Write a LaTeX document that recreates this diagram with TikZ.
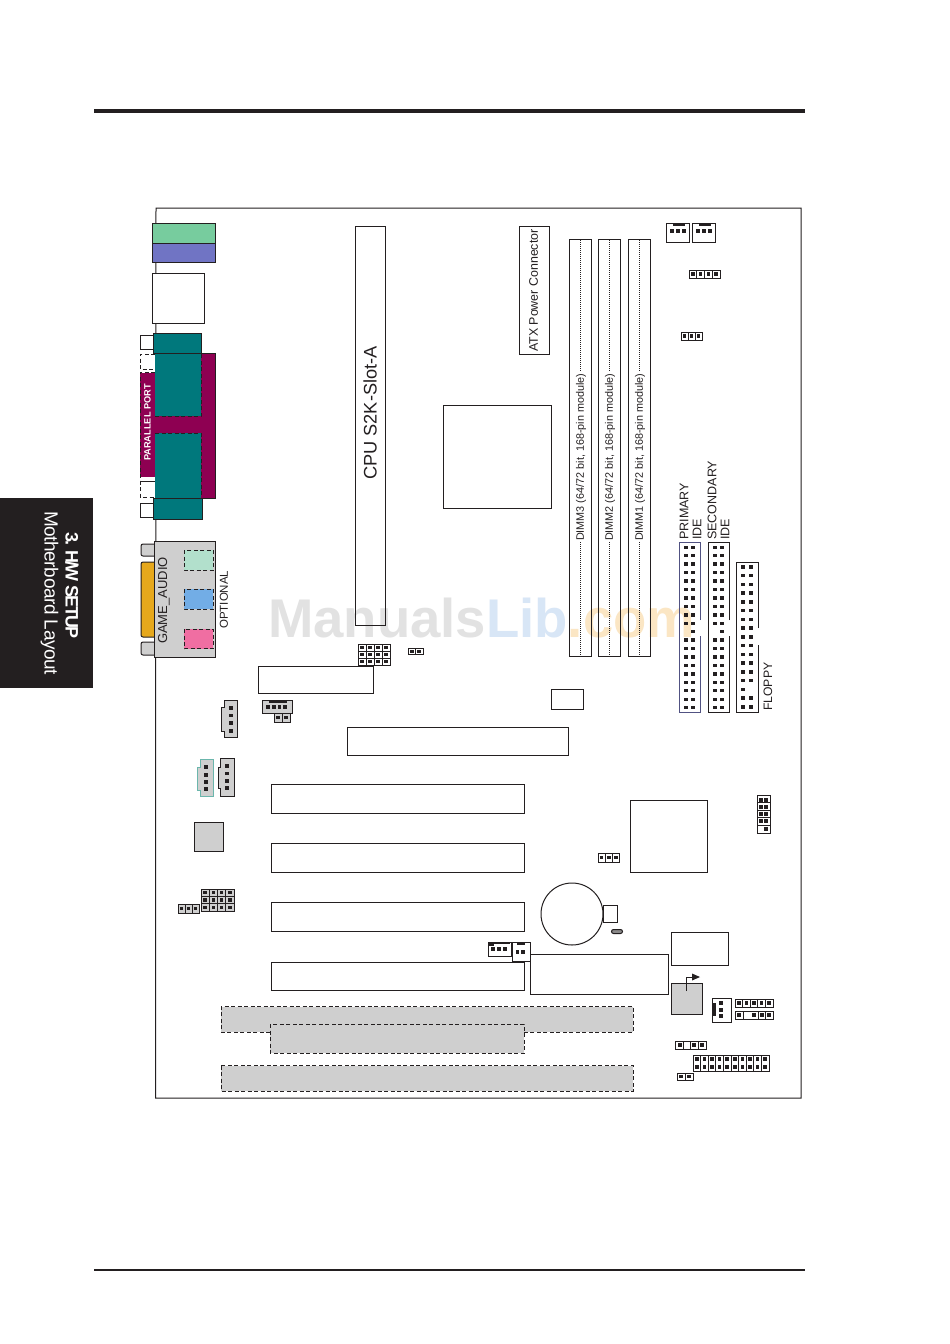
\documentclass[tikz,border=0pt]{standalone}
\usepackage{fontspec}
\setmainfont{Liberation Sans}
\definecolor{ink}{HTML}{231F20}
\definecolor{teal1}{HTML}{00787C}
\definecolor{purp}{HTML}{8E0052}
\definecolor{grn}{HTML}{77CC9E}
\definecolor{blu}{HTML}{7074C4}
\definecolor{gold}{HTML}{E6A81C}
\definecolor{mint}{HTML}{B2E0CC}
\definecolor{sky}{HTML}{72ADE6}
\definecolor{pink1}{HTML}{F06EA2}
\definecolor{grey1}{HTML}{CFCFCF}
\definecolor{wmg}{HTML}{E2E2E2}
\definecolor{wmb}{HTML}{D8E6F6}
\definecolor{wmo}{HTML}{FBE6C4}
\tikzset{
  ln/.style={draw=ink,line width=1pt},
  thin1/.style={draw=ink,line width=.8pt},
  dsh/.style={draw=ink,line width=.9pt,dash pattern=on 4pt off 2.5pt},
  rottext/.style={rotate=90,anchor=west,inner sep=0pt,text=ink,font=\fontsize{#1}{#1}\selectfont},
  dimmtext/.style={rotate=90,anchor=west,inner sep=0pt,text=ink,font=\fontsize{10.8}{11}\selectfont},
  dot1/.style={draw=ink,line width=.6pt,dash pattern=on 1pt off 1pt},
}
\newcommand{\pinat}[2]{\fill[ink] ({#1-1.8},{#2-1.7}) rectangle ({#1+1.8},{#2+1.7});}
% \cellgrid{x0}{y0}{x1}{y1}{cols}{rows}
\newcommand{\cellgrid}[7][none]{%
  \draw[thin1,fill=#1] (#2,#3) rectangle (#4,#5);
  \pgfmathsetmacro{\cw}{(#4-#2)/#6}\pgfmathsetmacro{\ch}{(#5-#3)/#7}%
  \pgfmathtruncatemacro{\nc}{#6-1}\pgfmathtruncatemacro{\nr}{#7-1}%
  \ifnum\nc>0 \foreach \i in {1,...,\nc}{\draw[thin1] ({#2+\i*\cw},#3) -- ({#2+\i*\cw},#5);}\fi
  \ifnum\nr>0 \foreach \j in {1,...,\nr}{\draw[thin1] (#2,{#3+\j*\ch}) -- (#4,{#3+\j*\ch});}\fi
}
\newcommand{\allpins}[6]{% x0 y0 x1 y1 cols rows
  \pgfmathsetmacro{\cw}{(#3-#1)/#5}\pgfmathsetmacro{\ch}{(#4-#2)/#6}%
  \pgfmathtruncatemacro{\nc}{#5-1}\pgfmathtruncatemacro{\nr}{#6-1}%
  \foreach \i in {0,...,\nc}\foreach \j in {0,...,\nr}{\pinat{#1+(\i+.5)*\cw}{#2+(\j+.5)*\ch}}%
}
\begin{document}
\begin{tikzpicture}[x=1pt,y=-1pt]
\useasboundingbox (0,0) rectangle (950,1344);
\fill[white] (0,0) rectangle (950,1344);
% watermark
\node[inner sep=0pt,anchor=base west,font=\fontsize{54.5}{55}\selectfont\bfseries] (wm) at (268,637) {\textcolor{wmg}{Manuals}\textcolor{wmb}{Lib}\textcolor{wmo}{.com}};
% page furniture
\fill[ink] (94,109) rectangle (805,113);
\fill[ink] (94,1269) rectangle (805,1271);
\fill[ink] (0,498) rectangle (93,688);
\node[rotate=-90,inner sep=0pt,text=white,font=\fontsize{18}{18}\selectfont\bfseries\addfontfeature{LetterSpace=-9}] (tabA) at (72,585.5) {3. H/W SETUP};
\node[rotate=-90,inner sep=0pt,text=white,font=\fontsize{19}{19}\selectfont\addfontfeature{LetterSpace=-2}] (tabB) at (49.5,593) {Motherboard Layout};
% board
\draw[ln] (155,1098) -- (801,1098) -- (801,208) -- (156,208) -- (155.5,1098);
% back panel top
\fill[grn] (152,223) rectangle (215,243); \draw[ln] (152,223) rectangle (215,243);
\fill[blu] (152,243) rectangle (215,262); \draw[ln] (152,243) rectangle (215,262);
\draw[ln,fill=white] (152,273) rectangle (204.5,323);
% parallel & serial
\draw[ln,fill=white] (140,335) rectangle (154,349);
\draw[ln,fill=white] (140,503) rectangle (154,517);
\fill[purp] (140,373) rectangle (155,477);
\fill[purp] (155,353) rectangle (215,498);
\draw[ink,line width=.8pt] (201,353) -- (215,353) -- (215,498) -- (201,498);
\fill[teal1] (155,353) rectangle (201,416);
\fill[teal1] (155,433) rectangle (201,498);
\draw[dsh,line width=.7pt] (155,416) -- (201,416) -- (201,353);
\draw[dsh,line width=.7pt] (155,433) -- (201,433) -- (201,498);
\fill[teal1] (153,333) rectangle (201,353); \draw[ln] (153,333) rectangle (201,353);
\fill[teal1] (153,498) rectangle (202,519); \draw[ln] (153,498) rectangle (202,519);
\draw[dsh,line width=.8pt] (155,354) -- (140,354) -- (140,369) -- (155,369);
\draw[dsh,line width=.8pt] (155,372) -- (140,372) -- (140,497) -- (155,497);
\draw[ln] (140,481) -- (155,481);
\node[rotate=90,inner sep=0pt,text=white,font=\fontsize{9.2}{9.5}\selectfont\bfseries] (par) at (147.5,422.5) {PARALLEL PORT};
% audio
\draw[ln,fill=grey1,rounded corners=2pt] (154,544) -- (141,544) -- (141,556) -- (154,556);
\draw[ln,fill=grey1,rounded corners=2pt] (154,642) -- (141,642) -- (141,655) -- (154,655);
\draw[ln,fill=gold,rounded corners=2pt] (154,562) -- (141,562) -- (141,637) -- (154,637);
\draw[ln,fill=grey1] (154,541.5) rectangle (215.5,657.5);
\path[fill=mint] (184,550) rectangle (213,570); \draw[dsh] (184,550) rectangle (213,570);
\path[fill=sky] (184,589) rectangle (213,609); \draw[dsh] (184,589) rectangle (213,609);
\path[fill=pink1] (184,629) rectangle (213,648.5); \draw[dsh] (184,629) rectangle (213,648.5);
\node[rottext=13] (ga) at (164,644) {GAME\_AUDIO};
\node[rottext=11.5] (op) at (224,629) {OPTIONAL};
% main rectangles
\draw[ln] (355,226) rectangle (385,625);
\node[rottext=18.2] (cpu) at (370,480) {CPU S2K-Slot-A};
\draw[ln] (519,226) rectangle (549,354);
\node[rottext=12.4] (atx) at (533.5,352) {ATX Power Connector};
\draw[ln] (443,405) rectangle (551,508);
\foreach \xa/\n in {569/3,598/2,628/1}{
  \draw[ln] (\xa,239) rectangle (\xa+22,656);
  \draw[dot1] (\xa+11,240) -- (\xa+11,372);
  \draw[dot1] (\xa+11,542) -- (\xa+11,655);
  \node[dimmtext] at (\xa+12,541) {DIMM\n\ (64/72 bit, 168-pin module)};
}
\draw[ln] (258,666) rectangle (373,693);
\draw[ln] (347,727) rectangle (568,755);
\draw[ln] (551,689) rectangle (583,709);
\draw[ln] (630,800) rectangle (707,872);
\foreach \ya/\yb in {784/813,843/872,902/931,962/990}{\draw[ln] (271,\ya) rectangle (524,\yb);}
\draw[ln] (530,990) -- (530,954) -- (668,954) -- (668,994) -- (530,994) -- (530,990);
\draw[ln] (671,932) rectangle (728,965);
% dashed ISA slots
\fill[grey1] (221,1006.5) rectangle (633,1032);
\draw[dsh] (270,1032) -- (221,1032) -- (221,1006.5) -- (633,1006.5) -- (633,1032) -- (524,1032);
\fill[grey1] (270,1024) rectangle (524,1053);
\draw[dsh] (270,1024) rectangle (524,1053);
\fill[grey1] (221,1065.5) rectangle (633,1091);
\draw[dsh] (221,1065.5) rectangle (633,1091);
% IDE labels
\node[rottext=12.5] (pri) at (684,540) {PRIMARY};
\node[rottext=12.5] (ide1) at (697,540) {IDE};
\node[rottext=12.5] (sec) at (712,540) {SECONDARY};
\node[rottext=12.5] (ide2) at (725,540) {IDE};
\node[rottext=12.2] (flp) at (768,711) {FLOPPY};
% IDE connectors
\draw[line width=1pt,draw=blu!60!ink] (700,620) -- (700,542) -- (679,542) -- (679,712) -- (700,712) -- (700,636);
\draw[ln] (729,620) -- (729,542) -- (708,542) -- (708,712) -- (729,712) -- (729,636);
\draw[ln] (758,628) -- (758,562) -- (736,562) -- (736,712) -- (758,712) -- (758,645);
\foreach \r in {0,...,19}{
  \pgfmathsetmacro{\yy}{547.3+\r*8.44}
  \ifnum\r=10\relax\else \pinat{686}{\yy} \pinat{715}{\yy}\fi
  \pinat{693}{\yy} \pinat{722}{\yy}
}
\foreach \r in {0,...,16}{
  \pgfmathsetmacro{\yy}{566.8+\r*8.75}
  \pinat{743}{\yy}
  \ifnum\r=14\relax\else \pinat{751}{\yy}\fi
}
% top right headers
\foreach \xa in {666,692}{
  \draw[thin1] (\xa,223) rectangle (\xa+23.5,242);
  \fill[ink] (\xa+7,223) rectangle (\xa+19,226);
  \foreach \k in {6,12,18}{\pinat{\xa+\k}{231}}
}
\cellgrid{689}{270}{720}{278}{4}{1} \allpins{689}{270}{720}{278}{4}{1}
\cellgrid{681}{332}{702}{340}{3}{1} \allpins{681}{332}{702}{340}{3}{1}
% centre
\cellgrid{358}{644}{390}{665}{4}{3} \allpins{358}{644}{390}{665}{4}{3}
\cellgrid{408}{648}{423}{654.5}{2}{1} \allpins{408}{648}{423}{654.5}{2}{1}
% left connectors
\draw[ln,fill=grey1] (224,700) -- (237,700) -- (237,737) -- (224,737) -- (224,731) -- (221,731) -- (221,707) -- (224,707) -- cycle;
\foreach \yy in {708,715.5,723,731}{\pinat{231}{\yy}}
\draw[draw=mint!60!teal1,line width=1pt,fill=grey1] (200,759) -- (213,759) -- (213,796) -- (200,796) -- (200,790) -- (197,790) -- (197,767) -- (200,767) -- cycle;
\foreach \yy in {767,775,782,789}{\pinat{206}{\yy}}
\draw[ln,fill=grey1] (220,758) -- (234,758) -- (234,796) -- (220,796) -- (220,788) -- (218,788) -- (218,767) -- (220,767) -- cycle;
\foreach \yy in {766,773.5,781,788}{\pinat{227}{\yy}}
\draw[ln,fill=grey1] (194,822) rectangle (223,851);
\cellgrid[grey1]{201}{889}{234}{911}{4}{3} \allpins{201}{889}{234}{911}{4}{3}
\cellgrid[grey1]{178}{904}{199}{913}{3}{1} \allpins{178}{904}{199}{913}{3}{1}
% CPU fan header
\draw[ln,fill=grey1] (262,700) rectangle (292,713);
\fill[ink] (269,700) rectangle (287,702.5);
\foreach \xx in {268,274,279.5,285}{\pinat{\xx}{707}}
\cellgrid[grey1]{274}{713}{290}{722}{2}{1} \allpins{274}{713}{290}{722}{2}{1}
% battery
\draw[ln] (603,905) rectangle (617,922);
\draw[ln,fill=white] (572,914) circle (31);
\draw[ink,line width=1pt,fill=grey1!60!ink,rounded corners=2pt] (611.5,929.5) rectangle (622.5,933.5);
% bottom connectors
\draw[ln] (488,942) rectangle (511,956);
\fill[ink] (489,942) rectangle (510,944);
\fill[ink] (489,942) rectangle (494,946);
\foreach \xx in {493,499,505}{\pinat{\xx}{949}}
\draw[ln,fill=white] (512,942) rectangle (530,961);
\fill[ink] (517,942) rectangle (525,944.5);
\foreach \xx in {517.5,523}{\pinat{\xx}{952}}
\cellgrid{598}{853}{619.5}{862}{3}{1} \allpins{598}{853}{619.5}{862}{3}{1}
% right header
\cellgrid{757}{795}{770}{833}{1}{5}
\foreach \yy in {800,807,814,821}{\pinat{761}{\yy}}
\foreach \yy in {800,807,814,821,829}{\pinat{766}{\yy}}
% chip and arrow
\fill[grey1] (671,983) rectangle (702,1014);
\draw[ln] (671,983) rectangle (702,1014);
\coordinate (arrowA) at (686,991);
\coordinate (arrowB) at (693,977);
\draw[ln] (arrowA) |- (arrowB);
\fill[ink] (692,973.5) -- (700,977) -- (692,980.5) -- cycle;
% bottom right headers
\draw[ln] (712,998) rectangle (731,1022);
\fill[ink] (712,1003) rectangle (715.5,1016);
\foreach \yy in {1003,1010,1016}{\pinat{721}{\yy}}
\cellgrid{735}{999}{773}{1007}{5}{1} \allpins{735}{999}{773}{1007}{5}{1}
\draw[thin1] (735,1011) rectangle (773,1019);
\foreach \xx in {743,758,765}{\draw[thin1] (\xx,1011) -- (\xx,1019);}
\foreach \xx in {739,754,762,769}{\pinat{\xx}{1015}}
\draw[thin1] (675,1041) rectangle (706,1049);
\foreach \xx in {683,690,698}{\draw[thin1] (\xx,1041) -- (\xx,1049);}
\foreach \xx in {680,694,702}{\pinat{\xx}{1045}}
\cellgrid{693}{1055}{769}{1071}{10}{1} \allpins{693}{1055}{769}{1071}{10}{2}
\cellgrid{677}{1073}{693}{1080}{2}{1} \allpins{677}{1073}{693}{1080}{2}{1}
\end{tikzpicture}
\end{document}
